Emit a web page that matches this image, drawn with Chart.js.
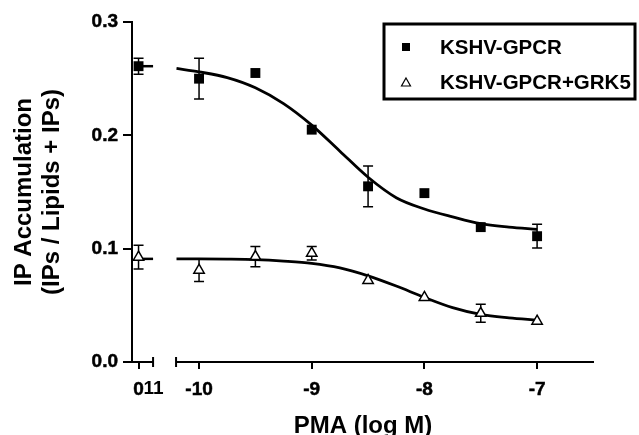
<!DOCTYPE html>
<html><head><meta charset="utf-8">
<script src="https://cdn.jsdelivr.net/npm/chart.js@4.4.1/dist/chart.umd.min.js"></script>
<style>html,body{margin:0;padding:0;background:#fff}#wrap{width:639px;height:435px;position:relative}</style>
</head><body><div id="wrap"><canvas id="c"></canvas></div>
<script>
// ---- data ----
const seriesNames = ['KSHV-GPCR', 'KSHV-GPCR+GRK5'];
const xTickValues = [-10, -9, -8, -7];
const yTickValues = [0, 0.1, 0.2, 0.3];
const controlLabel = '0';
const breakLabel = '11';
const logDose = [-10, -9.5, -9, -8.5, -8, -7.5, -7];
const gpcrMean = [0.250, 0.255, 0.205, 0.155, 0.149, 0.119, 0.111];
const gpcrErr  = [0.018, 0, 0, 0.018, 0, 0, 0.0105];
const gpcrCtrl = 0.261, gpcrCtrlErr = 0.007;
const grkMean = [0.081, 0.093, 0.096, 0.072, 0.057, 0.043, 0.036];
const grkErr  = [0.010, 0.009, 0.006, 0, 0, 0.008, 0];
const grkCtrl = 0.0925, grkCtrlErr = 0.0105;
const fitX    = [-10.2, -10, -9.75, -9.5, -9.25, -9, -8.75, -8.5, -8.25, -8, -7.75, -7.5, -7.25, -7];
const gpcrFit = [0.259, 0.256, 0.251, 0.242, 0.228, 0.209, 0.186, 0.163, 0.145, 0.135, 0.128, 0.122, 0.119, 0.117];
const grkFit  = [0.091, 0.091, 0.0908, 0.0903, 0.089, 0.087, 0.083, 0.076, 0.067, 0.057, 0.048, 0.042, 0.039, 0.037];
const gpcrCtrlFit = 0.261, grkCtrlFit = 0.091;

// ---- axis-break layout (positions on the x scale) ----
const X_MIN = -10.595, X_MAX = -6.495, CTRL_POS = -10.537, SEG1_END = -10.408, SEG2_START = -10.204;

const FONT = "'Liberation Sans', Arial, Helvetica, sans-serif";
Chart.defaults.font.family = FONT;
Chart.defaults.font.weight = 'bold';
Chart.defaults.color = '#000';

const pts = (xs, ys) => xs.map((x, i) => ({x, y: ys[i]}));

const errorBars = {
  id: 'errorBars',
  beforeDatasetsDraw(chart) {
    const {ctx, scales: {x, y}} = chart;
    ctx.save();
    ctx.strokeStyle = '#000'; ctx.lineWidth = 1.5;
    chart.data.datasets.forEach(ds => {
      if (!ds.errors) return;
      ds.data.forEach((p, j) => {
        const e = ds.errors[j]; if (!e) return;
        const px = x.getPixelForValue(p.x);
        const y1 = y.getPixelForValue(p.y + e), y2 = y.getPixelForValue(p.y - e);
        ctx.beginPath();
        ctx.moveTo(px, y1); ctx.lineTo(px, y2);
        ctx.moveTo(px - 5, y1); ctx.lineTo(px + 5, y1);
        ctx.moveTo(px - 5, y2); ctx.lineTo(px + 5, y2);
        ctx.stroke();
      });
    });
    ctx.restore();
  }
};

const brokenAxis = {
  id: 'brokenAxis',
  afterDraw(chart) {
    const {ctx, scales: {x, y}} = chart;
    const y0 = y.getPixelForValue(0);
    const a = x.getPixelForValue(X_MIN), b = x.getPixelForValue(SEG1_END);
    const c = x.getPixelForValue(SEG2_START), d = x.getPixelForValue(X_MAX);
    ctx.save();
    ctx.strokeStyle = '#000'; ctx.lineWidth = 2;
    ctx.beginPath();
    ctx.moveTo(a - 1, y0); ctx.lineTo(b, y0);
    ctx.moveTo(c, y0); ctx.lineTo(d, y0);
    ctx.moveTo(b, y0 - 5); ctx.lineTo(b, y0 + 5);
    ctx.moveTo(c, y0 - 5); ctx.lineTo(c, y0 + 5);
    ctx.stroke();
    ctx.fillStyle = '#000';
    ctx.font = 'bold 19px ' + FONT;
    ctx.textAlign = 'left'; ctx.textBaseline = 'middle';
    ctx.fillText(breakLabel, x.getPixelForValue(CTRL_POS) + 5, 389);
    ctx.restore();
  }
};

const boxLegend = {
  id: 'boxLegend',
  afterDraw(chart) {
    const {ctx} = chart;
    ctx.save();
    ctx.strokeStyle = '#000'; ctx.lineWidth = 3;
    ctx.strokeRect(384, 24, 251, 75);
    ctx.font = 'bold 20.5px ' + FONT;
    ctx.textBaseline = 'middle'; ctx.textAlign = 'left'; ctx.fillStyle = '#000';
    // entry 1: filled square
    ctx.fillRect(402, 43, 8, 8);
    ctx.fillText(chart.data.datasets[0].label, 440, 48);
    // entry 2: open triangle
    ctx.lineWidth = 1.2;
    ctx.beginPath();
    ctx.moveTo(406, 78); ctx.lineTo(410.5, 86); ctx.lineTo(401.5, 86); ctx.closePath();
    ctx.stroke();
    ctx.fillText(chart.data.datasets[1].label, 440, 83);
    ctx.restore();
  }
};

new Chart(document.getElementById('c'), {
  type: 'scatter',
  data: {
    datasets: [
      {label: seriesNames[0], data: [{x: CTRL_POS, y: gpcrCtrl}].concat(pts(logDose, gpcrMean)),
       errors: [gpcrCtrlErr].concat(gpcrErr),
       pointStyle: 'rect', pointRadius: 7, pointBackgroundColor: '#000', pointBorderColor: '#000', pointBorderWidth: 0, order: 0},
      {label: seriesNames[1], data: [{x: CTRL_POS, y: grkCtrl}].concat(pts(logDose, grkMean)),
       errors: [grkCtrlErr].concat(grkErr),
       pointStyle: 'triangle', pointRadius: 6, pointBackgroundColor: '#fff', pointBorderColor: '#000', pointBorderWidth: 1.5, order: 0},
      {label: 'fit1', type: 'line', data: pts(fitX, gpcrFit), borderColor: '#000', borderWidth: 2.8, pointRadius: 0, cubicInterpolationMode: 'monotone', showLine: true, order: 1},
      {label: 'fit2', type: 'line', data: pts(fitX, grkFit), borderColor: '#000', borderWidth: 2.8, pointRadius: 0, cubicInterpolationMode: 'monotone', showLine: true, order: 1},
      {label: 'ctrl1', type: 'line', data: [{x: CTRL_POS, y: gpcrCtrlFit}, {x: SEG1_END, y: gpcrCtrlFit}], borderColor: '#000', borderWidth: 2.5, pointRadius: 0, order: 1},
      {label: 'ctrl2', type: 'line', data: [{x: CTRL_POS, y: grkCtrlFit}, {x: SEG1_END, y: grkCtrlFit}], borderColor: '#000', borderWidth: 2.5, pointRadius: 0, order: 1}
    ]
  },
  options: {
    responsive: true, maintainAspectRatio: false, animation: false,
    layout: {padding: {left: 0, top: 22, right: 45, bottom: 0}},
    plugins: {legend: {display: false}, tooltip: {enabled: false}},
    scales: {
      x: {
        type: 'linear', min: X_MIN, max: X_MAX,
        afterFit(s) { s.height = 73; },
        afterBuildTicks(s) { s.ticks = [CTRL_POS].concat(xTickValues).map(v => ({value: v})); },
        border: {display: false},
        grid: {drawOnChartArea: false, drawTicks: true, tickLength: 7, color: '#000', lineWidth: 2},
        ticks: {font: {size: 19, weight: 'bold'}, color: '#000', padding: 9, maxRotation: 0, autoSkip: false,
                textStrokeColor: '#000', textStrokeWidth: 0.5,
                callback: v => (v === CTRL_POS ? controlLabel : String(v))},
        title: {display: true, text: 'PMA (log M)', font: {size: 24, weight: 'bold', lineHeight: 1}, color: '#000', padding: {top: 0, bottom: -3}}
      },
      y: {
        min: 0, max: 0.3,
        afterFit(s) { s.width = 132; },
        afterBuildTicks(s) { s.ticks = yTickValues.map(v => ({value: v})); },
        border: {display: true, color: '#000', width: 2},
        grid: {drawOnChartArea: false, drawTicks: true, tickLength: 9, color: '#000', lineWidth: 2},
        ticks: {font: {size: 19, weight: 'bold'}, color: '#000', padding: 5,
                textStrokeColor: '#000', textStrokeWidth: 0.5, callback: v => v.toFixed(1)},
        title: {display: true, text: ['IP Accumulation', '(IPs / Lipids + IPs)'], font: {size: 24, weight: 'bold', lineHeight: 1.17}, color: '#000', padding: {top: 10, bottom: 0}}
      }
    }
  },
  plugins: [errorBars, brokenAxis, boxLegend]
});
</script></body></html>
